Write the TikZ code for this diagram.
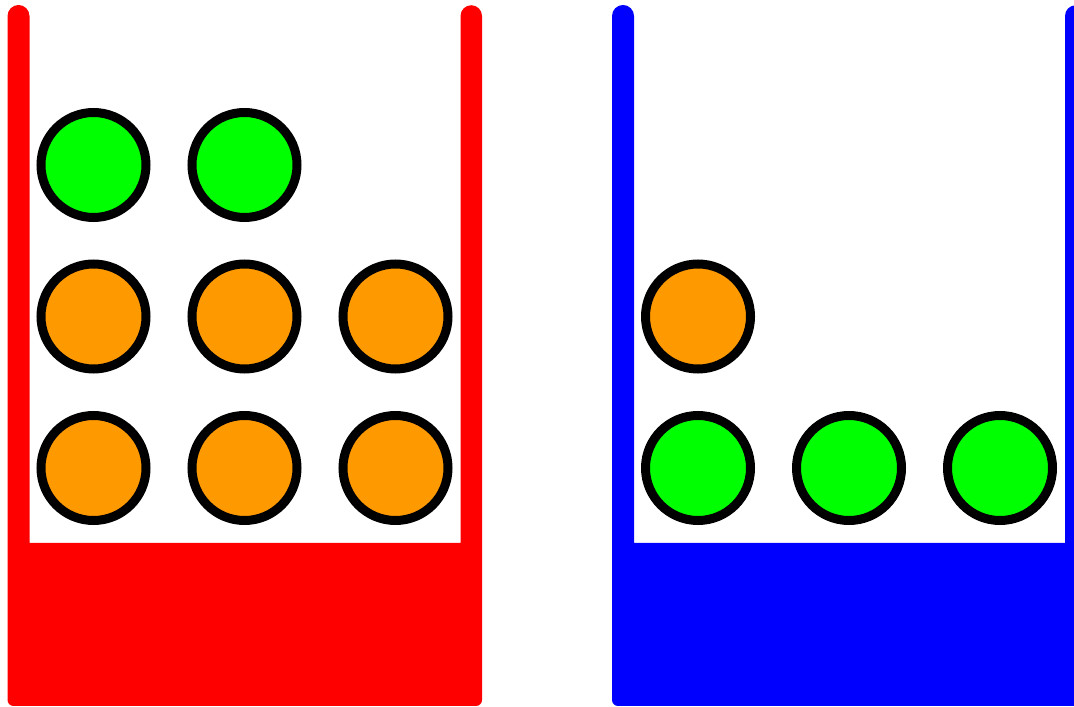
\documentclass[tikz,border=0pt]{standalone}
\usepackage{xcolor}
\usepackage{tikz}
\definecolor{ballgreen}{HTML}{00FF00}
\definecolor{ballorange}{HTML}{FF9900}
\definecolor{jarred}{HTML}{FF0000}
\definecolor{jarblue}{HTML}{0000FF}

\begin{document}
\begin{tikzpicture}[x=1pt, y=1pt,
  ball/.style={circle, draw=black, line width=9pt, minimum size=105pt, inner sep=0pt},
  greenball/.style={ball, fill=ballgreen},
  orangeball/.style={ball, fill=ballorange}
]
\clip (0,0) rectangle (1074,707);

% jars (walls + base as one outline)
\foreach \dx/\col in {0/jarred,604.5/jarblue}
  \fill[\col, xshift=\dx pt] (7.5,691) [rounded corners=6pt] -- (7.5,1) -- (482,1) [sharp corners] -- (482,691)
    arc[start angle=0, end angle=180, radius=10.75] -- (460.5,164) -- (29.5,164) -- (29.5,691)
    arc[start angle=0, end angle=180, radius=11] -- cycle;

% red jar
\foreach \c/\x in {1/93.5,2/244.5} \node[greenball] (ra\c) at (\x,542) {};
\foreach \c/\x in {1/93.5,2/244.5,3/395.5} {
  \node[orangeball] (rb\c) at (\x,390.5) {};
  \node[orangeball] (rc\c) at (\x,239) {};
}

% blue jar
\node[orangeball] (bb1) at (698,390.5) {};
\foreach \c/\x in {1/698,2/849,3/1000} \node[greenball] (bc\c) at (\x,239) {};
\end{tikzpicture}
\end{document}
